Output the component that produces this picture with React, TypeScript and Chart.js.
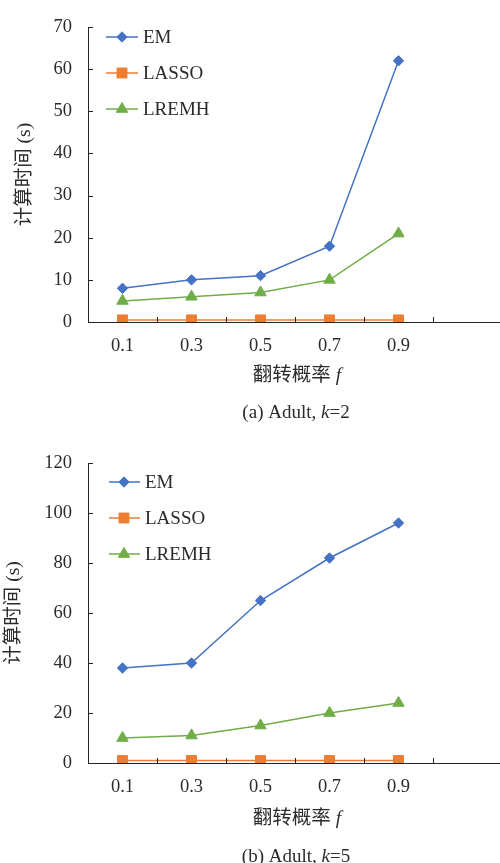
import React, { useEffect, useRef } from 'react';
import { Chart, registerables } from 'chart.js';
Chart.register(...registerables);

// ---- data ----
const categories = ['0.1', '0.3', '0.5', '0.7', '0.9', ''];
const seriesNames = ['EM', 'LASSO', 'LREMH'];
const emA = [8, 10, 11, 18, 62];
const lassoA = [0.5, 0.5, 0.5, 0.5, 0.5];
const lremhA = [5, 6, 7, 10, 21];
const emB = [38, 40, 65, 82, 96];
const lassoB = [1, 1, 1, 1, 1];
const lremhB = [10, 11, 15, 20, 24];
const yMaxA = 70;
const yStepA = 10;
const yMaxB = 120;
const yStepB = 20;
const yTitleText = '计算时间 (s)';
const xTitleText = '翻转概率 ';
const xTitleVar = 'f';
const captionA = ['(a) Adult, ', 'k', '=2'];
const captionB = ['(b) Adult, ', 'k', '=5'];

// ---- style ----
const COLORS = ['#4472C4', '#ED7D31', '#70AD47'];
const STYLES = ['rectRot', 'rect', 'triangle'];
const RADII = [5.2, 7, 6.6];
const FONT = '"Liberation Serif", "Noto Sans CJK SC", serif';
const TEXT = '#2b2b2b';
const AXIS = '#262626';

interface Panel {
  top: number;
  height: number;
  areaTop: number;
  areaBottom: number;
  series: number[][];
  yMax: number;
  yStep: number;
  yTitleX: number;
  lg: { x1: number; x2: number; mx: number; tx: number; y0: number; dy: number };
  xTitleY: number;
  capY: number;
  caption: string[];
}

const panels: Panel[] = [
  {
    top: 0, height: 430, areaTop: 23, areaBottom: 322,
    series: [emA, lassoA, lremhA], yMax: yMaxA, yStep: yStepA, yTitleX: 25,
    lg: { x1: 106, x2: 138, mx: 122, tx: 143, y0: 37, dy: 36 },
    xTitleY: 376, capY: 413, caption: captionA,
  },
  {
    top: 430, height: 433, areaTop: 33, areaBottom: 333,
    series: [emB, lassoB, lremhB], yMax: yMaxB, yStep: yStepB, yTitleX: 14,
    lg: { x1: 109, x2: 140, mx: 124, tx: 145, y0: 52, dy: 36 },
    xTitleY: 389, capY: 427, caption: captionB,
  },
];

function drawMarker(ctx: CanvasRenderingContext2D, style: string, x: number, y: number, r: number, color: string) {
  ctx.save();
  ctx.fillStyle = color;
  ctx.strokeStyle = color;
  ctx.lineWidth = 1;
  ctx.beginPath();
  if (style === 'rectRot') {
    ctx.moveTo(x - r, y);
    ctx.lineTo(x, y - r);
    ctx.lineTo(x + r, y);
    ctx.lineTo(x, y + r);
    ctx.closePath();
  } else if (style === 'rect') {
    const s = r * Math.SQRT1_2;
    ctx.rect(x - s, y - s, 2 * s, 2 * s);
  } else {
    ctx.moveTo(x, y - r);
    ctx.lineTo(x + 0.866 * r, y + 0.5 * r);
    ctx.lineTo(x - 0.866 * r, y + 0.5 * r);
    ctx.closePath();
  }
  ctx.fill();
  ctx.stroke();
  ctx.restore();
}

function drawRich(ctx: CanvasRenderingContext2D, parts: [string, boolean][], cx: number, cy: number, size: number, rotate = false) {
  ctx.save();
  ctx.translate(cx, cy);
  if (rotate) ctx.rotate(-Math.PI / 2);
  ctx.fillStyle = TEXT;
  ctx.textBaseline = 'middle';
  ctx.textAlign = 'left';
  const widths = parts.map(([t, it]) => {
    ctx.font = `${it ? 'italic ' : ''}${size}px ${FONT}`;
    return ctx.measureText(t).width;
  });
  const total = widths.reduce((a, b) => a + b, 0);
  let x = -total / 2;
  parts.forEach(([t, it], i) => {
    ctx.font = `${it ? 'italic ' : ''}${size}px ${FONT}`;
    ctx.fillText(t, x, 0);
    x += widths[i];
  });
  ctx.restore();
}

function makeDecor(p: Panel) {
  return {
    id: 'decor',
    afterDraw(chart: any) {
      const ctx: CanvasRenderingContext2D = chart.ctx;
      const area = chart.chartArea;
      const xs = chart.scales.x;
      const ys = chart.scales.y;
      ctx.save();
      ctx.strokeStyle = AXIS;
      ctx.lineWidth = 1;
      // inside y tick marks
      ys.ticks.forEach((t: any) => {
        const y = Math.round(ys.getPixelForValue(t.value)) + 0.5;
        ctx.beginPath();
        ctx.moveTo(area.left, y);
        ctx.lineTo(area.left + 5, y);
        ctx.stroke();
      });
      // inside x tick marks at category boundaries
      for (let i = 0; i < categories.length - 1; i++) {
        const x = Math.round((xs.getPixelForValue(i) + xs.getPixelForValue(i + 1)) / 2) + 0.5;
        ctx.beginPath();
        ctx.moveTo(x, area.bottom);
        ctx.lineTo(x, area.bottom - 5);
        ctx.stroke();
      }
      ctx.restore();

      // legend
      seriesNames.forEach((name, i) => {
        const y = p.lg.y0 + i * p.lg.dy;
        ctx.save();
        ctx.strokeStyle = COLORS[i];
        ctx.lineWidth = 1.5;
        ctx.beginPath();
        ctx.moveTo(p.lg.x1, y);
        ctx.lineTo(p.lg.x2, y);
        ctx.stroke();
        ctx.restore();
        drawMarker(ctx, STYLES[i], p.lg.mx, y, RADII[i], COLORS[i]);
        ctx.save();
        ctx.fillStyle = TEXT;
        ctx.font = `19px ${FONT}`;
        ctx.textBaseline = 'middle';
        ctx.textAlign = 'left';
        ctx.fillText(name, p.lg.tx, y + 1);
        ctx.restore();
      });

      // axis titles and caption
      drawRich(ctx, [[yTitleText, false]], p.yTitleX, (area.top + area.bottom) / 2, 19.5, true);
      drawRich(ctx, [[xTitleText, false], [xTitleVar, true]], 297, p.xTitleY, 19.5);
      drawRich(ctx, [[p.caption[0], false], [p.caption[1], true], [p.caption[2], false]], 296, p.capY, 19);
    },
  };
}

function ChartPanel({ p }: { p: Panel }) {
  const ref = useRef<HTMLCanvasElement>(null);
  useEffect(() => {
    if (!ref.current) return;
    const chart = new Chart(ref.current, {
      type: 'line',
      data: {
        labels: categories,
        datasets: p.series.map((d, i) => ({
          label: seriesNames[i],
          data: d,
          borderColor: COLORS[i],
          backgroundColor: COLORS[i],
          borderWidth: 1.5,
          pointStyle: STYLES[i] as any,
          pointRadius: RADII[i],
          pointBorderWidth: 1,
          pointBackgroundColor: COLORS[i],
          pointBorderColor: COLORS[i],
          tension: 0,
        })),
      },
      options: {
        responsive: false,
        animation: false,
        events: [],
        layout: { padding: { top: p.areaTop, right: 5, left: 0, bottom: 0 } },
        plugins: {
          legend: { display: false },
          tooltip: { enabled: false },
          title: { display: false },
        },
        scales: {
          x: {
            type: 'category',
            offset: true,
            grid: { display: false, drawTicks: false },
            border: { display: true, color: AXIS, width: 1 },
            ticks: {
              font: { family: FONT, size: 18.5 },
              color: TEXT,
              padding: 13,
              maxRotation: 0,
              autoSkip: false,
            },
            afterFit: (s: any) => {
              s.height = p.height - p.areaBottom;
            },
          },
          y: {
            min: 0,
            max: p.yMax,
            grid: { display: false, drawTicks: false },
            border: { display: true, color: AXIS, width: 1 },
            ticks: {
              stepSize: p.yStep,
              font: { family: FONT, size: 18.5 },
              color: TEXT,
              padding: 16,
            },
            afterFit: (s: any) => {
              s.width = 88;
            },
          },
        },
      } as any,
      plugins: [makeDecor(p)],
    });
    return () => chart.destroy();
  }, [p]);
  return (
    <canvas
      ref={ref}
      width={510}
      height={p.height}
      style={{ position: 'absolute', left: 0, top: p.top, width: 510, height: p.height }}
    />
  );
}

export default function App() {
  return (
    <div
      style={{
        position: 'absolute',
        left: 0,
        top: 0,
        width: 500,
        height: 863,
        overflow: 'hidden',
        background: '#ffffff',
      }}
    >
      {panels.map((p, i) => (
        <ChartPanel key={i} p={p} />
      ))}
    </div>
  );
}
